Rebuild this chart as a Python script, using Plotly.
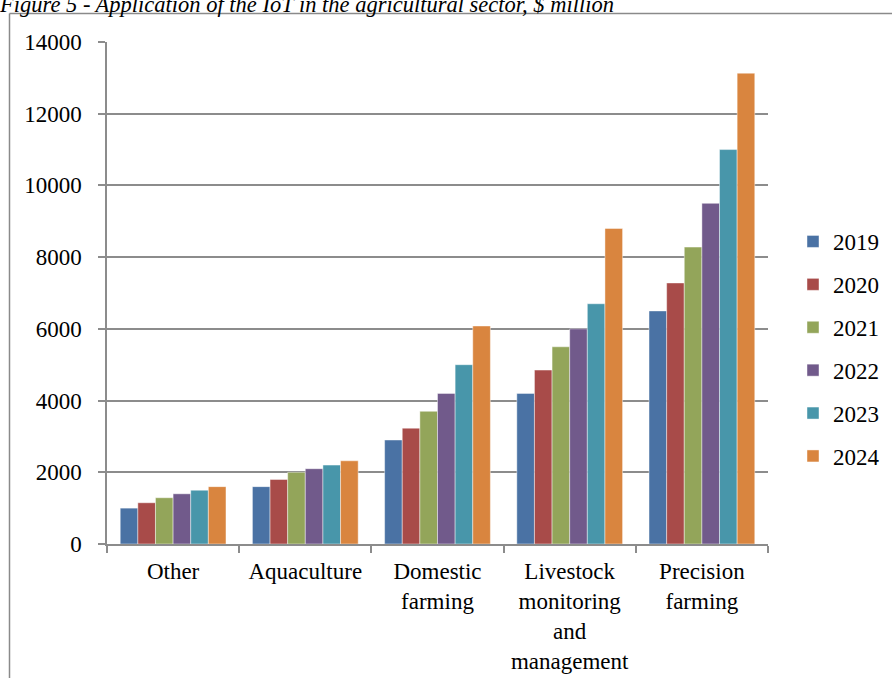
import plotly.graph_objects as go

categories = ["Other", "Aquaculture", "Domestic<br>farming",
              "Livestock<br>monitoring<br>and<br>management", "Precision<br>farming"]
years = ["2019", "2020", "2021", "2022", "2023", "2024"]
values = {
    "2019": [1000, 1600, 2900, 4200, 6500],
    "2020": [1150, 1800, 3230, 4850, 7280],
    "2021": [1290, 2000, 3700, 5500, 8280],
    "2022": [1400, 2100, 4200, 6000, 9500],
    "2023": [1500, 2200, 5000, 6700, 11000],
    "2024": [1600, 2320, 6080, 8800, 13130],
}
colors = ["#4A72A4", "#A84B49", "#93A55A", "#715A8B", "#4896AA", "#D9853F"]
y_ticks = [0, 2000, 4000, 6000, 8000, 10000, 12000, 14000]
title_text = "Figure 5 - Application of the IoT in the agricultural sector, $ million"

FONT = "Liberation Serif, Times New Roman, serif"
GRID = "#8C8C8C"

fig = go.Figure()
for yr, col in zip(years, colors):
    fig.add_trace(go.Bar(
        x=categories, y=values[yr], name=yr, legendgroup=yr,
        marker=dict(color=col, line=dict(color="rgba(255,255,255,0.55)", width=0.8)),
    ))

L, R, T, B = 107, 124, 42, 134
W, H = 892, 678
pw, ph = W - L - R, H - T - B

fig.update_layout(
    width=W, height=H,
    margin=dict(l=L, r=R, t=T, b=B, autoexpand=False),
    paper_bgcolor="white", plot_bgcolor="white",
    barmode="group", bargap=0.2, bargroupgap=0,
    font=dict(family=FONT, size=23, color="black"),
    title=dict(text=title_text, x=0.0, xanchor="left", xref="container",
               y=1 - 4 / H, yanchor="middle", yref="container", automargin=False,
               font=dict(family=FONT, size=22.5, style="italic", color="black")),
    legend=dict(x=(793 - L) / pw, xanchor="left", y=(544 - 349) / ph, yanchor="middle",
                font=dict(family=FONT, size=23), tracegroupgap=10,
                itemwidth=30, bgcolor="rgba(0,0,0,0)"),
    showlegend=True,
)
fig.update_xaxes(
    showline=True, linecolor=GRID, linewidth=1.5,
    ticks="outside", tickson="boundaries", ticklen=7, tickcolor=GRID, tickwidth=1.5,
    showgrid=False, tickfont=dict(family=FONT, size=23), ticklabelstandoff=6,
    automargin=False,
)
fig.update_yaxes(
    range=[0, 14000], tickvals=y_ticks, ticktext=[str(v) for v in y_ticks],
    showline=True, linecolor=GRID, linewidth=1.5,
    ticks="outside", ticklen=7, tickcolor=GRID, tickwidth=1.5,
    showgrid=True, gridcolor=GRID, gridwidth=1.5, zeroline=False,
    tickfont=dict(family=FONT, size=23), ticklabelstandoff=12,
    automargin=False,
)

# outer chart border (left and top edges, rest cropped)
bx = (9.5 - L) / pw
by = (544 - 13.5) / ph
fig.add_shape(type="line", xref="paper", yref="paper", x0=bx, x1=bx, y0=by, y1=-0.5,
              line=dict(color="#8A8A8A", width=1.5), layer="below")
fig.add_shape(type="line", xref="paper", yref="paper", x0=bx, x1=1.5, y0=by, y1=by,
              line=dict(color="#8A8A8A", width=1.5), layer="below")

fig.write_html("out.html")
